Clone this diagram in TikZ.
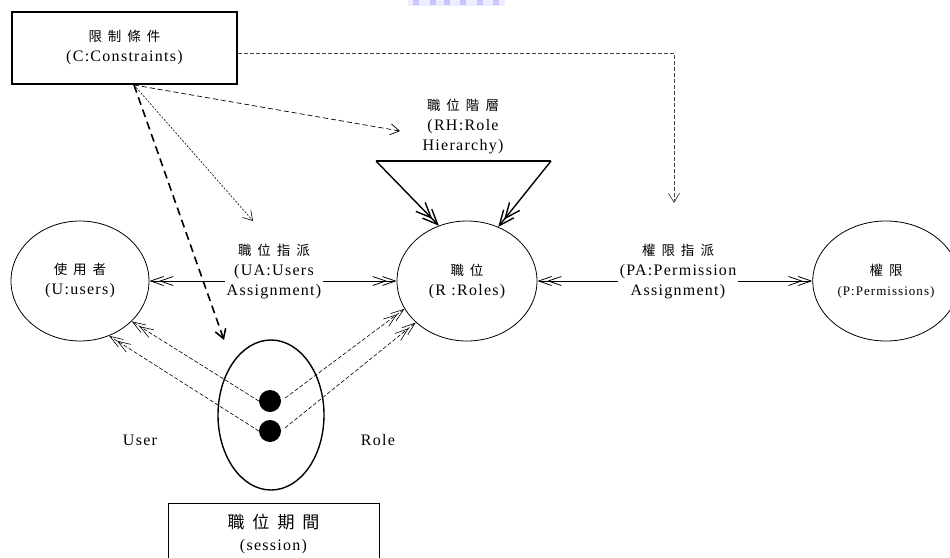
\documentclass[tikz,border=0pt]{standalone}
\usepackage{fontspec}
\setmainfont[LetterSpace=8]{Liberation Serif}
\newfontfamily\cjkfont{Noto Sans CJK TC}
% spaced CJK word: characters separated by a fixed gap
\newcommand\cjw[2][6pt]{{\cjkfont\fontsize{13.5}{20}\selectfont\def\gp{\hspace{#1}}#2}}
\newcommand\gap{\gp}
\usetikzlibrary{arrows.meta,shapes.geometric}

\tikzset{
  lbl/.style={align=center, inner sep=2pt, font=\fontsize{16}{20}\selectfont},
  entity/.style={draw, ellipse, line width=0.8pt, minimum width=138pt, minimum height=120pt,
    align=center, font=\fontsize{16}{20}\selectfont},
  dotnode/.style={circle, fill=black, minimum size=22pt, inner sep=0pt},
  vtip/.style={-{Straight Barb[length=9pt,width=11pt]}},
  vvtip/.style={-{Straight Barb[length=13pt,width=9pt,sep=-5pt]Straight Barb[length=13pt,width=9pt]}},
  rhtip/.style={-{Straight Barb[length=15pt,width=13pt,sep=-8pt]Straight Barb[length=15pt,width=13pt]}},
  fine/.style={dash pattern=on 4pt off 2pt, line width=0.6pt},
}

\begin{document}
\begin{tikzpicture}[x=1pt,y=-1pt]
\useasboundingbox (0,0) rectangle (950,557);
\clip (0,0) rectangle (950,557);

% faint blue strip along the top edge
\fill[blue!20!white, opacity=0.35] (408,0) rectangle (505,6);
\foreach \xx in {413,430,444,460,477,493}
  \fill[blue!40!white, opacity=0.45] (\xx,0) rectangle ++(6,5);

% constraints box
\node[draw, line width=1.4pt, minimum width=225pt, minimum height=72pt, lbl]
  (con) at (124.5,48) {\cjw{限\gap 制\gap 條\gap 件}\\(C:Constraints)};

% main entities
\node[entity] (users) at (80,281) {\cjw{使\gap 用\gap 者}\\(U:users)};
\node[entity, minimum width=140pt] (roles) at (467,281) {\cjw{職\gap 位}\\(R :Roles)};
\node[entity, minimum width=134pt, font=\fontsize{13}{20}\selectfont] (perms) at (886,281)
  {\cjw{權\gap 限}\\(P:Permissions)};

% assignment labels
\node[lbl] (ua) at (274,272) {\cjw{職\gap 位\gap 指\gap 派}\\(UA:Users\\Assignment)};
\node[lbl] (pa) at (678,272) {\cjw{權\gap 限\gap 指\gap 派}\\(PA:Permission\\Assignment)};
\node[lbl] (rh) at (463,127) {\cjw{職\gap 位\gap 階\gap 層}\\(RH:Role\\Hierarchy)};

% session
\node[draw, ellipse, line width=1.4pt, minimum width=106pt, minimum height=150pt] (sess) at (271,415) {};
\node[dotnode] (d1) at (270,401) {};
\node[dotnode] (d2) at (270,431) {};
\node[draw, line width=0.8pt, minimum width=211pt, minimum height=80pt, anchor=north] (sbox) at (273.5,503) {};
\node[lbl, font=\fontsize{16}{22}\selectfont] (stext) at (273.5,534)
  {{\cjkfont\fontsize{17}{22}\selectfont 職\hspace{8pt}位\hspace{8pt}期\hspace{8pt}間}\\(session)};
\node[lbl] (ulab) at (140,440) {User};
\node[lbl] (rlab) at (378,440) {Role};

% assignment connectors
\draw[line width=0.8pt, vvtip] (ua.west |- users.east) -- (users.east);
\draw[line width=0.8pt, vvtip] (ua.east |- roles.west) -- (roles.west);
\draw[line width=0.8pt, vvtip] (pa.west |- roles.east) -- (roles.east);
\draw[line width=0.8pt, vvtip] (pa.east |- perms.west) -- (perms.west);

% role hierarchy triangle
\coordinate (tl) at (376,161);
\coordinate (tr) at (551,161);
\draw[line width=1.4pt] (tl) -- (tr);
\draw[line width=1.4pt, rhtip] (tl) -- (roles.117);
\draw[line width=1.4pt, rhtip] (tr) -- (roles.60);

% constraint connectors
\coordinate (cs) at (134,85);
\coordinate (crh) at (400,131);
\coordinate (cua) at (253,221);
\coordinate (cse) at (224,340);
\coordinate (cpa) at (674,203);
\draw[dash pattern=on 4pt off 2pt, line width=0.7pt, black!75, vtip] ([yshift=-5pt]con.east) -| (cpa);
\draw[dash pattern=on 5pt off 3pt, line width=0.7pt, vtip] (cs) -- (crh);
\draw[dash pattern=on 2pt off 1.5pt, line width=0.6pt, vtip] (cs) -- (cua);
\draw[dash pattern=on 8pt off 5pt, line width=1.6pt, vtip] (cs) -- (cse);

% session to user / role connectors
\draw[fine, vvtip] (d1.west) -- (users.-38);
\draw[fine, vvtip] (d2.west) -- (users.-62);
\draw[fine, vvtip, shorten <=5pt] (d1.east) -- (roles.204);
\draw[fine, vvtip, shorten <=5pt] (d2.east) -- (roles.219);
\end{tikzpicture}
\end{document}
